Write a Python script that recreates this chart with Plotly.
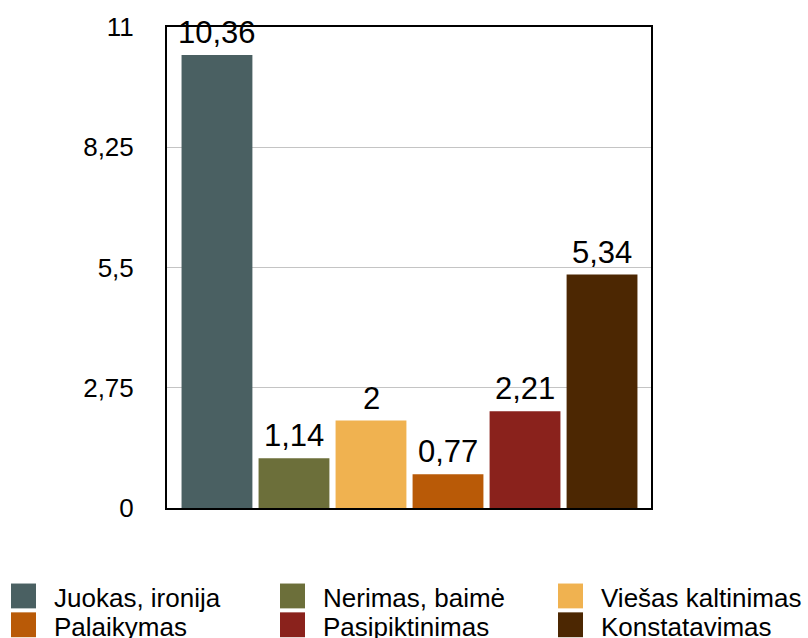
import plotly.graph_objects as go

# Category names, bar values and colours
categories = ["Juokas, ironija", "Nerimas, baimė", "Viešas kaltinimas",
              "Palaikymas", "Pasipiktinimas", "Konstatavimas"]
values = [10.36, 1.14, 2, 0.77, 2.21, 5.34]
colors = ["#4a6062", "#6c6f3a", "#f0b250", "#b95a07", "#8a221c", "#4c2702"]

# Y axis ticks
tick_values = [0, 2.75, 5.5, 8.25, 11]
tick_labels = ["0", "2,75", "5,5", "8,25", "11"]

FONT = "Liberation Sans, Arial, Helvetica, sans-serif"
W, H = 808, 638
L, R, T, B = 167, 157, 24, 130
PW, PH = W - L - R, H - T - B


def fmt(v):
    return f"{v:g}".replace(".", ",")


fig = go.Figure()
annotations = []
for i, (name, val, col) in enumerate(zip(categories, values, colors)):
    fig.add_trace(go.Bar(
        x=[i], y=[val], name=name, width=0.92,
        marker=dict(color=col, line=dict(width=0)),
        showlegend=False,
    ))
    # value label above each bar
    annotations.append(dict(
        x=i, y=val, xref="x", yref="y", text=fmt(val),
        showarrow=False, xanchor="center", yanchor="bottom", yshift=3,
        font=dict(size=31, color="black", family=FONT),
    ))

# Legend drawn as swatches and labels below the plot, three per row
shapes = []
col_x = [11, 280, 558]
row_y = [584, 613]
sw = 25
for i, (name, col) in enumerate(zip(categories, colors)):
    px = col_x[i % 3]
    py = row_y[i // 3]
    shapes.append(dict(
        type="rect", xref="paper", yref="paper",
        x0=(px - L) / PW, x1=(px + sw - L) / PW,
        y0=(H - B - py) / PH, y1=(H - B - py - sw) / PH,
        fillcolor=col, line=dict(width=0), layer="above",
    ))
    annotations.append(dict(
        xref="paper", yref="paper",
        x=(px + sw + 16 - L) / PW, y=(H - B - py - sw / 2 - 2) / PH,
        text=name, showarrow=False, xanchor="left", yanchor="middle",
        font=dict(size=26, color="black", family=FONT),
    ))

fig.update_layout(
    width=W, height=H,
    margin=dict(l=L, r=R, t=T, b=B, pad=0),
    paper_bgcolor="white", plot_bgcolor="white",
    barmode="overlay",
    separators=",.",
    font=dict(family=FONT, color="black"),
    shapes=shapes, annotations=annotations,
    showlegend=False,
    xaxis=dict(
        range=[-0.649, 5.636],
        showticklabels=False, ticks="", showgrid=False,
        showline=True, linecolor="black", linewidth=2, mirror=True,
        zeroline=False,
    ),
    yaxis=dict(
        range=[0, 11], tickvals=tick_values, ticktext=tick_labels,
        tickfont=dict(size=26, color="black", family=FONT),
        ticks="", ticklabelstandoff=26,
        showgrid=True, gridcolor="#c4c4c4", gridwidth=1,
        showline=True, linecolor="black", linewidth=2, mirror=True,
        zeroline=False,
    ),
)

fig.write_html("out.html")
